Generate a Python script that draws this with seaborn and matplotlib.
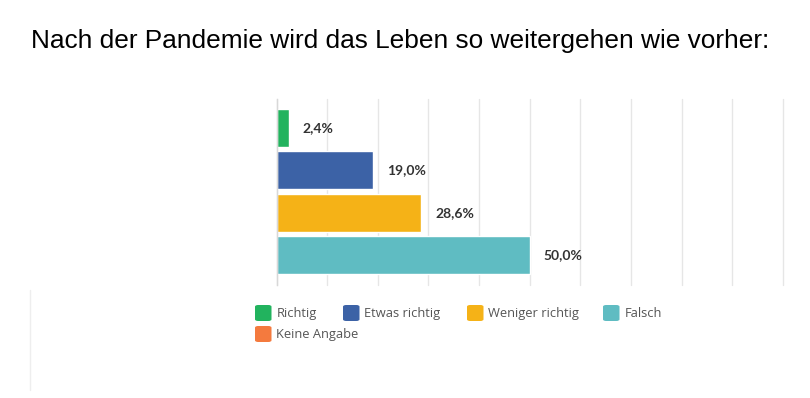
import matplotlib
matplotlib.use("Agg")
import matplotlib.pyplot as plt
from matplotlib.patches import FancyBboxPatch
from matplotlib.lines import Line2D
import seaborn as sns
import pandas as pd

title = "Nach der Pandemie wird das Leben so weitergehen wie vorher:"
categories = ["Richtig", "Etwas richtig", "Weniger richtig", "Falsch"]
values = [2.4, 19.0, 28.6, 50.0]
value_labels = ["2,4%", "19,0%", "28,6%", "50,0%"]
legend_labels = ["Richtig", "Etwas richtig", "Weniger richtig", "Falsch", "Keine Angabe"]
colors = ["#22b35e", "#3c62a6", "#f5b217", "#5fbcc2", "#f47a3e"]

sns.set_theme(style="white")
plt.rcParams["font.family"] = ["Liberation Sans", "DejaVu Sans"]

df = pd.DataFrame({"cat": categories, "val": values})

fig = plt.figure(figsize=(8.1, 3.98), dpi=100)
W, H = 810, 398
ax = fig.add_axes([276.5 / W, 1 - 285 / H, 506.5 / W, 186 / H])

sns.barplot(data=df, y="cat", x="val", hue="cat", order=categories,
            hue_order=categories, palette=colors[:4], orient="h",
            width=0.9, legend=False, ax=ax, saturation=1)

ax.set_xlim(0, 100)
ax.set_ylim(3.705, -0.685)
ax.set_xticks(range(0, 101, 10))
ax.set_yticks([])
ax.set_xticklabels([])
ax.set_xlabel("")
ax.set_ylabel("")
ax.tick_params(length=0)
ax.grid(axis="x", color="#e6e6e6", lw=1)
for gl in ax.get_xgridlines():
    gl.set_clip_on(False)
ax.set_axisbelow(True)
for s in ["top", "right", "bottom"]:
    ax.spines[s].set_visible(False)
ax.spines["left"].set_color("#d8d8d8")
ax.spines["left"].set_linewidth(1)

for i, (v, lab) in enumerate(zip(values, value_labels)):
    ax.annotate(lab, xy=(v, i), xytext=(10, 0), textcoords="offset points",
                ha="left", va="center", fontsize=10, fontweight="bold",
                color="#333333", family=["Lato", "DejaVu Sans"])

fig.text(400 / W, 1 - 48.3 / H, title, ha="center", va="baseline",
         fontsize=18.9, color="black")

# legend (flow layout)
positions = [(255, 305), (343, 305), (467, 305), (603, 305), (255, 326)]
for (x, y), lab, c in zip(positions, legend_labels, colors):
    p = FancyBboxPatch((x / W, 1 - (y + 16) / H), 16.5 / W, 16 / H,
                       boxstyle="round,pad=0,rounding_size=0.004",
                       transform=fig.transFigure, facecolor=c,
                       edgecolor="none")
    fig.add_artist(p)
    fig.text((x + 21.5) / W, 1 - (y + 8.5) / H, lab, ha="left", va="center",
             fontsize=9.3, color="#555555", family=["Open Sans", "DejaVu Sans"])

fig.add_artist(Line2D([30 / W, 30 / W], [1 - 290 / H, 1 - 390 / H],
                      transform=fig.transFigure, color="#eeeeee", lw=1))

fig.savefig("out.png", dpi=100, facecolor="white")
